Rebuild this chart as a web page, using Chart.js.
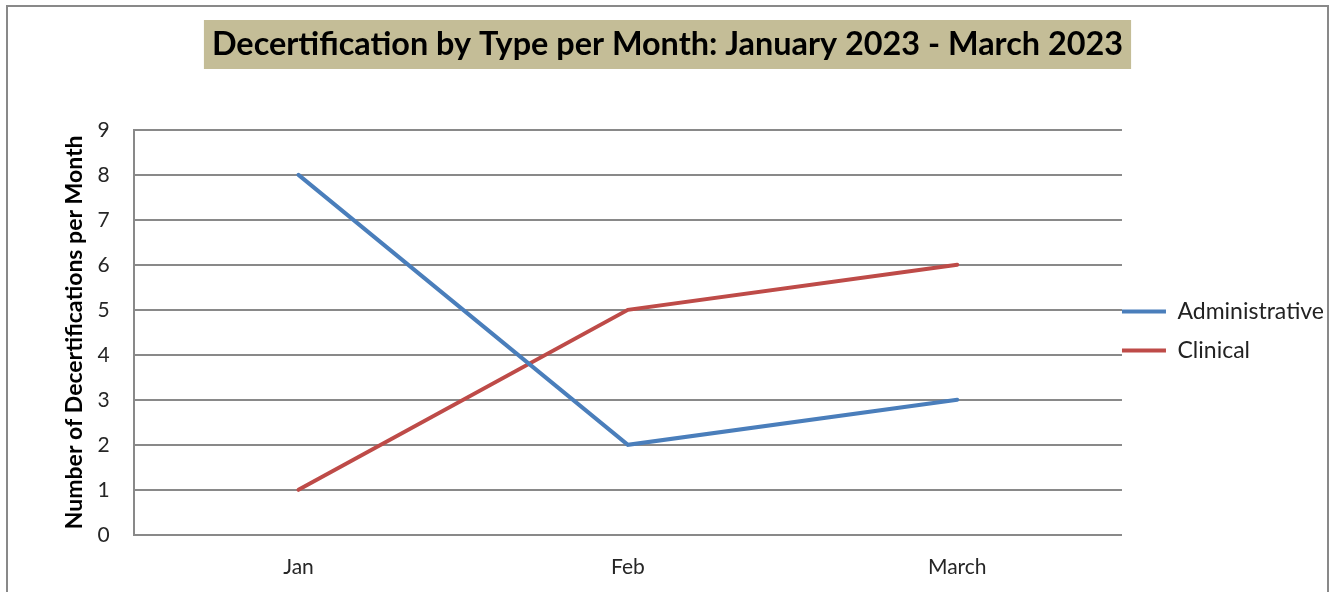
<!DOCTYPE html>
<html>
<head>
<meta charset="utf-8">
<script src="https://cdn.jsdelivr.net/npm/chart.js@4.4.1/dist/chart.umd.min.js"></script>
<style>
  html, body { margin: 0; padding: 0; background: #ffffff; }
  #wrap { width: 1335px; height: 592px; position: relative; }
</style>
</head>
<body>
<div id="wrap"><canvas id="myChart"></canvas></div>
<script>
const months = ['Jan', 'Feb', 'March'];
const administrative = [8, 2, 3];
const clinical = [1, 5, 6];
const yTicks = [0, 1, 2, 3, 4, 5, 6, 7, 8, 9];
const chartTitle = 'Decertification by Type per Month: January 2023 - March 2023';
const yAxisTitle = 'Number of Decertifications per Month';

const baseFont = 'Lato';
const gridColor = '#898989';
const titleSize = 32.4;

// frame round the whole chart and the khaki box behind the title
const framePlugin = {
    id: 'frame',
    beforeDraw(chart) {
        const ctx = chart.ctx;
        ctx.save();
        ctx.strokeStyle = gridColor;
        ctx.lineWidth = 2;
        ctx.strokeRect(7, 6, 1321, 620);

        const tb = chart.titleBlock;
        ctx.font = 'bold ' + titleSize + 'px ' + baseFont;
        const w = ctx.measureText(chartTitle).width;
        const cx = (tb.left + tb.right) / 2;
        ctx.fillStyle = '#c4bd97';
        ctx.fillRect(cx - w / 2 - 8, 20, w + 16, 49);
        ctx.restore();
    }
};

// nudge the legend so its lines touch the gridlines, as in the picture
const legendShift = {
    id: 'legendShift',
    afterLayout(chart) {
        const lg = chart.legend;
        lg.left -= 16;
        lg.right -= 16;
        lg.top += 21;
        lg.bottom += 21;
    }
};

const ctx = document.getElementById('myChart').getContext('2d');
const chart = new Chart(ctx, {
    type: 'line',
    data: {
        labels: months,
        datasets: [
            {
                label: 'Administrative',
                data: administrative,
                borderColor: '#4a7ebb',
                backgroundColor: '#4a7ebb',
                borderWidth: 4,
                borderCapStyle: 'round',
                pointRadius: 0,
                tension: 0
            },
            {
                label: 'Clinical',
                data: clinical,
                borderColor: '#be4b48',
                backgroundColor: '#be4b48',
                borderWidth: 4,
                borderCapStyle: 'round',
                pointRadius: 0,
                tension: 0
            }
        ]
    },
    options: {
        responsive: true,
        maintainAspectRatio: false,
        animation: false,
        layout: {
            padding: { left: -15, right: -15, top: 20, bottom: -8 }
        },
        plugins: {
            title: {
                display: true,
                text: chartTitle,
                color: '#000000',
                font: { family: baseFont, size: titleSize, weight: 'bold' },
                padding: { top: 5, bottom: 66 }
            },
            legend: {
                display: true,
                position: 'right',
                labels: {
                    usePointStyle: true,
                    pointStyle: 'line',
                    pointStyleWidth: 44,
                    boxWidth: 44,
                    padding: 16,
                    color: '#222222',
                    font: { family: baseFont, size: 23 }
                }
            },
            tooltip: { enabled: false }
        },
        scales: {
            x: {
                offset: true,
                grid: { display: false, drawTicks: false },
                border: { display: false },
                ticks: {
                    padding: 20,
                    color: '#262626',
                    font: { family: baseFont, size: 21 }
                }
            },
            y: {
                min: 0,
                max: 9,
                afterBuildTicks(scale) {
                    scale.ticks = yTicks.map(v => ({ value: v }));
                },
                grid: { color: gridColor, lineWidth: 2, drawTicks: false },
                border: { display: true, color: gridColor, width: 2 },
                ticks: {
                    padding: 24,
                    color: '#262626',
                    font: { family: baseFont, size: 21 }
                },
                title: {
                    display: true,
                    text: yAxisTitle,
                    color: '#000000',
                    font: { family: baseFont, size: 23, weight: 'bold' },
                    padding: { top: 76, bottom: -15 }
                }
            }
        }
    },
    plugins: [framePlugin, legendShift]
});
</script>
</body>
</html>
